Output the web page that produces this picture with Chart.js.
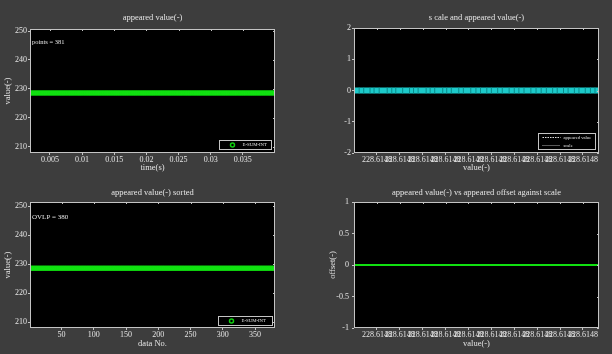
<!DOCTYPE html>
<html>
<head>
<meta charset="utf-8">
<script src="https://cdn.jsdelivr.net/npm/chart.js@4.4.1/dist/chart.umd.min.js"></script>
<style>
  html, body { margin: 0; padding: 0; background: #3d3d3d; }
  #fig { position: relative; width: 612px; height: 354px; background: #3d3d3d; overflow: hidden; }
  .panel { position: absolute; width: 306px; height: 177px; }
</style>
</head>
<body>
<div id="fig">
  <div class="panel" style="left:0;top:0"><canvas id="c-value" width="306" height="177"></canvas></div>
  <div class="panel" style="left:306px;top:0"><canvas id="c-scale" width="306" height="177"></canvas></div>
  <div class="panel" style="left:0;top:177px"><canvas id="c-sorted" width="306" height="177"></canvas></div>
  <div class="panel" style="left:306px;top:177px"><canvas id="c-offset" width="306" height="177"></canvas></div>
</div>
<script>
// ---- data ----
const pointCount = 381;
const appearedValue = 228.6148;          // flat over the whole record
const timeStart = 0.002, timeStep = 0.0001;
const timeS = Array.from({ length: pointCount }, (_, i) => +(timeStart + i * timeStep).toFixed(4));
const dataNo = Array.from({ length: pointCount }, (_, i) => i + 1);
const appeared = timeS.map(() => appearedValue);
const appearedSorted = dataNo.map(() => appearedValue);

// scale values (x of the cyan markers), all sitting at 0
const scaleValues = [
  228.6148000, 228.6148009, 228.6148017, 228.6148028, 228.6148035, 228.6148044, 228.6148058, 228.6148066,
  228.6148073, 228.6148085, 228.6148097, 228.6148104, 228.6148112, 228.6148126, 228.6148133, 228.6148141,
  228.6148155, 228.6148162, 228.6148170, 228.6148183, 228.6148191, 228.6148204, 228.6148213, 228.6148221,
  228.6148232, 228.6148240, 228.6148251, 228.6148259, 228.6148271, 228.6148280, 228.6148288, 228.6148297,
  228.6148309, 228.6148318, 228.6148327, 228.6148336, 228.6148347, 228.6148355, 228.6148366, 228.6148374,
  228.6148385, 228.6148393, 228.6148404, 228.6148413, 228.6148421, 228.6148428
];
const scaleLevel = scaleValues.map(() => 0);
const scaleOffsets = scaleValues.map(() => 0);

// ticks
const valueTicksY = [210, 220, 230, 240, 250];
const timeTicks = [0.005, 0.01, 0.015, 0.02, 0.025, 0.03, 0.035];
const dataNoTicks = [50, 100, 150, 200, 250, 300, 350];
const scaleTicksY = [-2, -1, 0, 1, 2];
const offsetTicksY = [-1, -0.5, 0, 0.5, 1];
const valueAxisTicks = [228.614804, 228.614808, 228.614812, 228.614816, 228.61482,
                        228.614824, 228.614828, 228.614832, 228.614836, 228.61484];
const valueAxisLabels = ['228.6148', '228.6148', '228.6148', '228.6148', '228.6148',
                         '228.6148', '228.6148', '228.6148', '228.6148', '228.6148'];

// ---- styling ----
const FONT = '"Liberation Serif", "DejaVu Serif", serif';
const TXT = '#e4e4e4';
const FRAME = '#c4c4c4';
const GREEN = '#1cff1c';
const CYAN = '#1ccaca';

const fmtTick = (v) => String(+v.toFixed(6));

function makeScale(o) {
  return {
    type: 'linear',
    min: o.min,
    max: o.max,
    afterBuildTicks: (s) => { s.ticks = o.ticks.map(v => ({ value: v })); },
    afterFit: (s) => { if (o.axis === 'x') s.height = o.size; else s.width = o.size; },
    grid: { display: true, drawOnChartArea: false, drawTicks: true, tickLength: 2, tickColor: FRAME },
    border: { display: false },
    ticks: {
      color: TXT,
      font: { family: FONT, size: 8 },
      padding: o.pad ?? 0,
      autoSkip: false,
      maxRotation: 0,
      minRotation: 0,
      callback: o.labels ? (v, i) => o.labels[i] : (v) => fmtTick(v)
    },
    title: o.title
      ? { display: true, text: o.title, color: TXT, font: { family: FONT, size: 8.5 }, padding: o.titlePad }
      : { display: false }
  };
}

// frame, title, note and legend drawn MATLAB style
function framePlugin(cfg) {
  return {
    id: 'frame',
    beforeDraw(chart) {
      const { ctx, chartArea: a } = chart;
      ctx.save();
      ctx.fillStyle = '#000';
      ctx.fillRect(a.left, a.top, a.right - a.left, a.bottom - a.top);
      ctx.restore();
    },
    afterDraw(chart) {
      const { ctx, chartArea: a, scales } = chart;
      ctx.save();
      ctx.strokeStyle = FRAME;
      ctx.lineWidth = 1;
      ctx.strokeRect(Math.round(a.left) + 0.5, Math.round(a.top) + 0.5,
                     Math.round(a.right - a.left) - 1, Math.round(a.bottom - a.top) - 1);
      ctx.beginPath();
      scales.x.ticks.forEach(t => {
        const px = Math.round(scales.x.getPixelForValue(t.value)) + 0.5;
        ctx.moveTo(px, a.top); ctx.lineTo(px, a.top + 2);
      });
      scales.y.ticks.forEach(t => {
        const py = Math.round(scales.y.getPixelForValue(t.value)) + 0.5;
        ctx.moveTo(a.right, py); ctx.lineTo(a.right - 2, py);
      });
      ctx.stroke();

      ctx.fillStyle = TXT;
      ctx.textAlign = 'center';
      ctx.textBaseline = 'middle';
      ctx.font = `8.5px ${FONT}`;
      ctx.fillText(cfg.title, (a.left + a.right) / 2, cfg.titleY);

      if (cfg.note) {
        ctx.textAlign = 'left';
        ctx.font = `${cfg.note.size}px ${FONT}`;
        ctx.fillText(cfg.note.text, a.left + 2, a.top + cfg.note.dy);
      }

      if (cfg.legend) {
        const lg = cfg.legend;
        const x0 = Math.round(a.right - lg.inset - lg.w) + 0.5;
        const y0 = Math.round(a.bottom - lg.inset - lg.h) + 0.5;
        ctx.fillStyle = '#000';
        ctx.fillRect(x0, y0, lg.w, lg.h);
        ctx.strokeStyle = FRAME;
        ctx.setLineDash([]);
        ctx.strokeRect(x0, y0, lg.w, lg.h);
        ctx.font = `${lg.size}px ${FONT}`;
        ctx.textAlign = 'left';
        lg.items.forEach((it, i) => {
          const ry = y0 + lg.h / lg.items.length * (i + 0.5);
          const label = chart.data.datasets[it.ds].label;
          ctx.strokeStyle = it.color;
          if (it.kind === 'circle') {
            ctx.lineWidth = 1.5;
            ctx.beginPath(); ctx.arc(x0 + 13, ry, 2, 0, Math.PI * 2); ctx.stroke();
            ctx.fillStyle = TXT;
            ctx.fillText(label, x0 + 23, ry);
          } else {
            ctx.lineWidth = 1;
            ctx.setLineDash(it.dash);
            ctx.beginPath(); ctx.moveTo(x0 + 4, ry); ctx.lineTo(x0 + 22, ry); ctx.stroke();
            ctx.setLineDash([]);
            ctx.fillStyle = TXT;
            ctx.fillText(label, x0 + 25, ry);
          }
        });
      }
      ctx.restore();
    }
  };
}

function baseOptions(pad, scales) {
  return {
    responsive: false,
    animation: false,
    layout: { padding: pad },
    plugins: { legend: { display: false }, tooltip: { enabled: false }, title: { display: false } },
    scales
  };
}

// Top left: appeared value vs time
new Chart(document.getElementById('c-value'), {
  type: 'scatter',
  data: {
    datasets: [{
      label: 'E-SUM-INT',
      data: timeS.map((t, i) => ({ x: t, y: appeared[i] })),
      showLine: false,
      pointRadius: 2,
      pointBorderWidth: 1,
      pointBackgroundColor: GREEN,
      pointBorderColor: '#10e010'
    }]
  },
  options: baseOptions({ left: 0, right: 31, top: 29, bottom: 0 }, {
    x: makeScale({ axis: 'x', min: 0.0019, max: 0.0400, ticks: timeTicks, size: 24, title: 'time(s)', titlePad: 4 }),
    y: makeScale({ axis: 'y', min: 207.9, max: 250.7, ticks: valueTicksY, size: 30, pad: 1, title: 'value(-)', titlePad: 3 })
  }),
  plugins: [framePlugin({
    title: 'appeared value(-)', titleY: 18,
    note: { text: 'points = 381', size: 6.5, dy: 13 },
    legend: { w: 52, h: 9, inset: 4, size: 4.8, items: [{ ds: 0, kind: 'circle', color: '#10d010' }] }
  })]
});

// Top right: scale and appeared value
new Chart(document.getElementById('c-scale'), {
  type: 'scatter',
  data: {
    datasets: [
      {
        label: 'appeared value',
        data: scaleValues.map(() => ({ x: appearedValue, y: 0 })),
        showLine: false,
        pointRadius: 0,
        order: 2
      },
      {
        label: 'scale',
        data: scaleValues.map((v, i) => ({ x: v, y: scaleLevel[i] })),
        showLine: true,
        borderColor: CYAN,
        borderWidth: 6,
        pointStyle: 'line',
        rotation: 90,
        pointRadius: 3,
        pointBorderWidth: 1,
        pointBorderColor: '#0a8c8c',
        order: 1
      }
    ]
  },
  options: baseOptions({ left: 0, right: 13, top: 28, bottom: 0 }, {
    x: makeScale({ axis: 'x', min: scaleValues[0], max: scaleValues[scaleValues.length - 1], ticks: valueAxisTicks,
                   labels: valueAxisLabels, size: 24, title: 'value(-)', titlePad: 4 }),
    y: makeScale({ axis: 'y', min: -2, max: 2, ticks: scaleTicksY, size: 48, pad: 1 })
  }),
  plugins: [framePlugin({
    title: 's cale and appeared value(-)', titleY: 18,
    legend: { w: 57, h: 16, inset: 4, size: 4.6, items: [
      { ds: 0, kind: 'line', color: '#e0e0e0', dash: [1.5, 1] },
      { ds: 1, kind: 'line', color: '#b0b0b0', dash: [1, 1] }
    ] }
  })]
});

// Bottom left: sorted values
new Chart(document.getElementById('c-sorted'), {
  type: 'scatter',
  data: {
    datasets: [{
      label: 'E-SUM-INT',
      data: dataNo.map((n, i) => ({ x: n, y: appearedSorted[i] })),
      showLine: false,
      pointRadius: 2,
      pointBorderWidth: 1,
      pointBackgroundColor: GREEN,
      pointBorderColor: '#10e010'
    }]
  },
  options: baseOptions({ left: 0, right: 31, top: 25, bottom: 0 }, {
    x: makeScale({ axis: 'x', min: 1, max: 381, ticks: dataNoTicks, size: 26, title: 'data No.', titlePad: 5 }),
    y: makeScale({ axis: 'y', min: 208, max: 251.4, ticks: valueTicksY, size: 30, pad: 1, title: 'value(-)', titlePad: 3 })
  }),
  plugins: [framePlugin({
    title: 'appeared value(-) sorted', titleY: 16,
    note: { text: 'OVLP = 380', size: 7, dy: 15 },
    legend: { w: 54, h: 9, inset: 3, size: 4.8, items: [{ ds: 0, kind: 'circle', color: '#10d010' }] }
  })]
});

// Bottom right: offset against scale
new Chart(document.getElementById('c-offset'), {
  type: 'scatter',
  data: {
    datasets: [{
      label: 'offset',
      data: scaleValues.map((v, i) => ({ x: v, y: scaleOffsets[i] })),
      showLine: true,
      borderColor: '#10e010',
      borderWidth: 2,
      pointRadius: 0
    }]
  },
  options: baseOptions({ left: 0, right: 13, top: 25, bottom: 0 }, {
    x: makeScale({ axis: 'x', min: scaleValues[0], max: scaleValues[scaleValues.length - 1], ticks: valueAxisTicks,
                   labels: valueAxisLabels, size: 26, title: 'value(-)', titlePad: 5 }),
    y: makeScale({ axis: 'y', min: -1, max: 1, ticks: offsetTicksY, size: 48, pad: 3, title: 'offset(-)', titlePad: 22 })
  }),
  plugins: [framePlugin({
    title: 'appeared value(-) vs appeared offset against scale', titleY: 16
  })]
});
</script>
</body>
</html>
